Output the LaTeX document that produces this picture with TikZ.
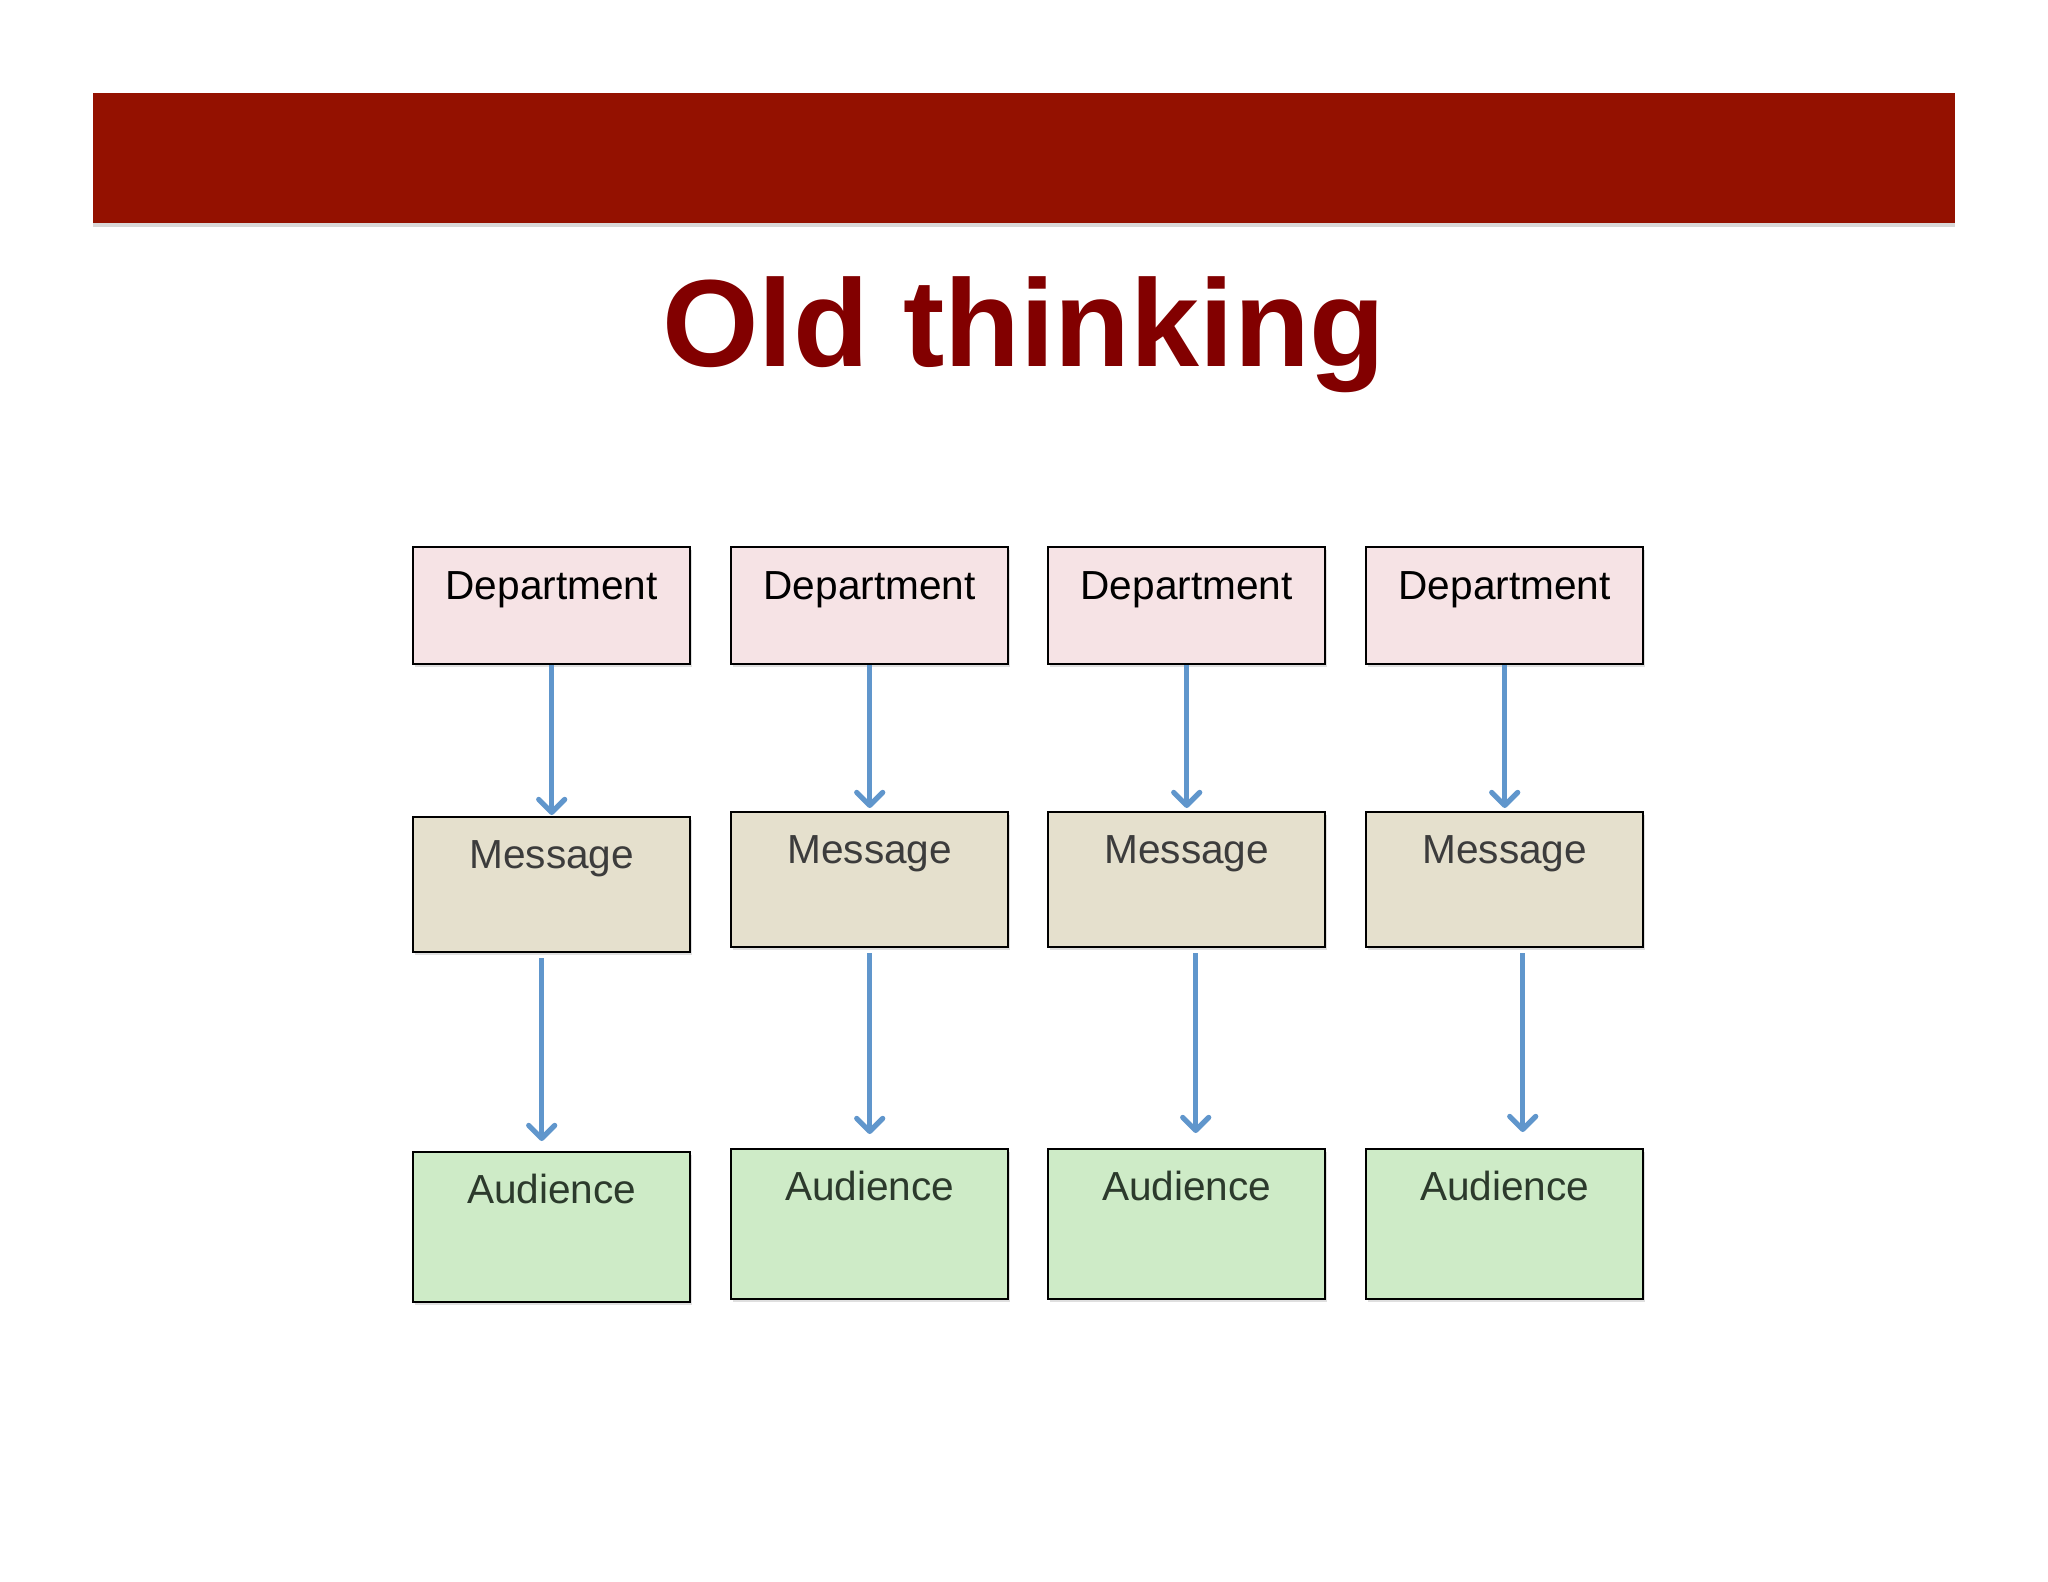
\documentclass[tikz,border=0pt]{standalone}
\usepackage{fontspec}
\setmainfont{Liberation Sans}
\usetikzlibrary{arrows.meta,shadows}
\definecolor{barred}{HTML}{941100}
\definecolor{titlered}{HTML}{820000}
\definecolor{deptfill}{HTML}{F6E3E5}
\definecolor{msgfill}{HTML}{E5E0CD}
\definecolor{audfill}{HTML}{CEEBC7}
\definecolor{arrowblue}{HTML}{6096CC}
\definecolor{msgtext}{HTML}{3C3C3C}
\definecolor{audtext}{HTML}{2C3A2C}
\tikzset{
  boxbase/.style={draw=black, line width=1.2pt, inner xsep=0pt, inner ysep=0pt,
    minimum width=138.5pt, anchor=north west, align=center,
    font=\fontsize{20.3pt}{24pt}\selectfont,
    drop shadow={shadow xshift=0.8pt, shadow yshift=-1.6pt, opacity=0.25, fill=gray}},
  deptbox/.style={boxbase, fill=deptfill, text=black, text height=26pt, text depth=32.5pt},
  msgbox/.style={boxbase, fill=msgfill, text=msgtext, text height=25.5pt, text depth=42pt},
  audbox/.style={boxbase, fill=audfill, text=audtext, text height=25.5pt, text depth=49.5pt},
  flow/.style={draw=arrowblue, line width=2.6pt,
    -{Straight Barb[length=6.5pt,width=13pt,round]}},
}
\begin{document}
\begin{tikzpicture}[x=0.5pt,y=-0.5pt]
\useasboundingbox[fill=white] (0,0) rectangle (2048,1582);
% header bar
\fill[barred, drop shadow={shadow xshift=0pt, shadow yshift=-2pt, opacity=0.3, fill=gray}] (93,93) rectangle (1955,223);
% title
\node[anchor=base, text=titlered, inner sep=0pt, font=\fontsize{62pt}{70pt}\selectfont\bfseries] (title) at (1024,367) {Old thinking};
% column 1
\node[deptbox] (d1) at (412,546) {Department};
\node[msgbox]  (m1) at (412,816) {Message};
\node[audbox]  (a1) at (412,1151) {Audience};
% column 2
\node[deptbox] (d2) at (730,546) {Department};
\node[msgbox]  (m2) at (730,811) {Message};
\node[audbox]  (a2) at (730,1148) {Audience};
% column 3
\node[deptbox] (d3) at (1047,546) {Department};
\node[msgbox]  (m3) at (1047,811) {Message};
\node[audbox]  (a3) at (1047,1148) {Audience};
% column 4
\node[deptbox] (d4) at (1365,546) {Department};
\node[msgbox]  (m4) at (1365,811) {Message};
\node[audbox]  (a4) at (1365,1148) {Audience};
% arrows department -> message
\draw[flow] (d1.south) -- ([yshift=0.5pt]m1.north);
\draw[flow] (d2.south) -- ([yshift=1.5pt]m2.north);
\draw[flow] (d3.south) -- ([yshift=1.5pt]m3.north);
\draw[flow] (d4.south) -- ([yshift=1.5pt]m4.north);
% arrows message -> audience
\draw[flow] ([xshift=-5pt,yshift=-2.5pt]m1.south) -- ([xshift=-5pt,yshift=5pt]a1.north);
\draw[flow] ([yshift=-2.5pt]m2.south) -- ([yshift=7pt]a2.north);
\draw[flow] ([xshift=4.5pt,yshift=-2.5pt]m3.south) -- ([xshift=4.5pt,yshift=7.5pt]a3.north);
\draw[flow] ([xshift=9pt,yshift=-2.5pt]m4.south) -- ([xshift=9pt,yshift=8pt]a4.north);
\end{tikzpicture}
\end{document}
